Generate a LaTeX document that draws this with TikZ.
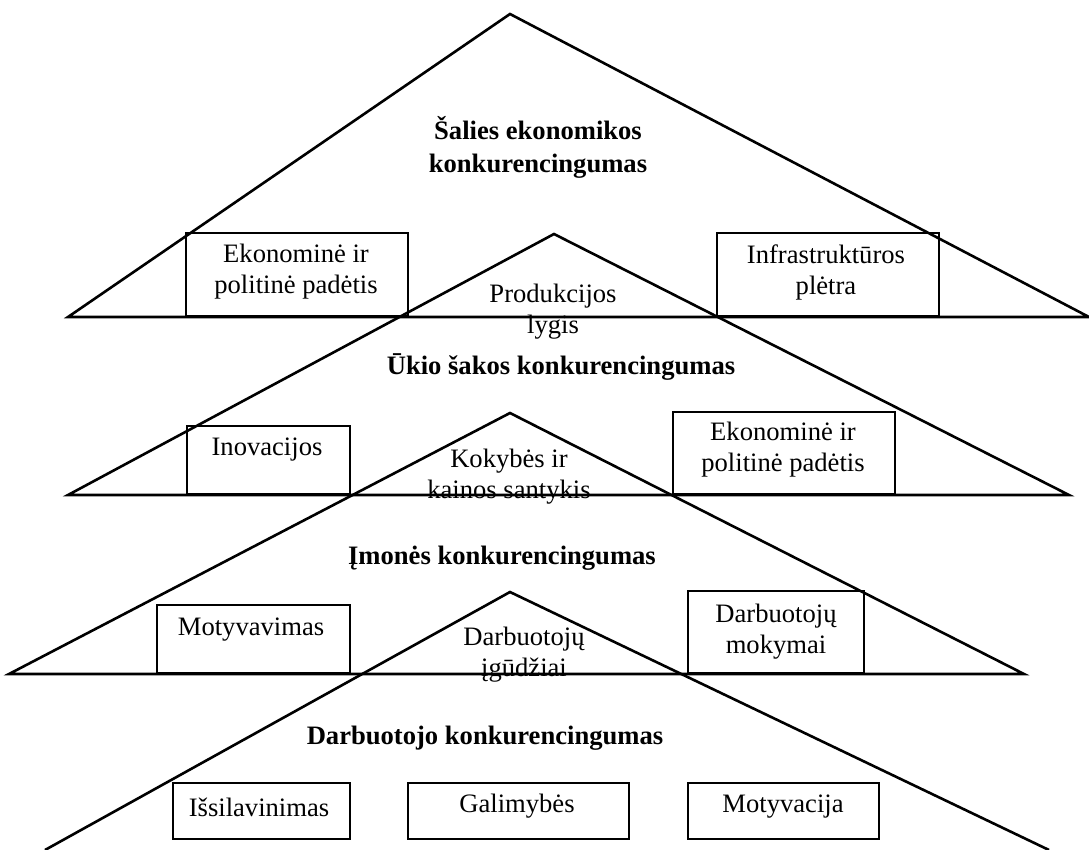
\documentclass[tikz,border=0pt]{standalone}
\usepackage{fontspec}
\setmainfont{Liberation Serif}
\usepackage{tikz}
\usetikzlibrary{positioning}

\tikzset{
  side/.style={line width=2.6pt, line join=miter},
  box/.style={draw, line width=2.3pt, fill=white, inner sep=0pt, anchor=south west},
  txt/.style={align=center, inner sep=0pt, font=\fontsize{26.6}{31}\selectfont},
  head/.style={txt, font=\fontsize{26.6}{33}\selectfont\bfseries}
}

\begin{document}
\begin{tikzpicture}[x=1pt, y=-1pt]
        \useasboundingbox (0,0) rectangle (1089,850);
        % corners of the triangles
        \coordinate (l1) at (68,317);  \coordinate (t1) at (510,14);  \coordinate (r1) at (1089,317);
        \coordinate (l2) at (68,495);  \coordinate (t2) at (554,234); \coordinate (r2) at (1069,495);
        \coordinate (l3) at (9,674);   \coordinate (t3) at (510,413); \coordinate (r3) at (1024,674);
        \coordinate (l4) at (45,850);  \coordinate (t4) at (510,592); \coordinate (r4) at (1049,850);
        % boxes
        \node [box, minimum width=222pt, minimum height=83pt] (b1a) at (185,317) {};
        \node [box, minimum width=222pt, minimum height=83pt] (b1b) at (716,317) {};
        \node [box, minimum width=163pt, minimum height=68pt] (b2a) at (186,495) {};
        \node [box, minimum width=222pt, minimum height=82pt] (b2b) at (672,495) {};
        \node [box, minimum width=193pt, minimum height=68pt] (b3a) at (156,674) {};
        \node [box, minimum width=176pt, minimum height=82pt] (b3b) at (687,674) {};
        \node [box, minimum width=177pt, minimum height=56pt] (b4a) at (172,840) {};
        \node [box, minimum width=221pt, minimum height=56pt] (b4b) at (407,840) {};
        \node [box, minimum width=191pt, minimum height=56pt] (b4c) at (687,840) {};
        % triangles
        \draw [side] (l1) -- (t1) -- (r1) -- cycle;
        \draw [side] (l2) -- (t2) -- (r2) -- cycle;
        \draw [side] (l3) -- (t3) -- (r3) -- cycle;
        \draw [side] (l4) -- (t4) -- (r4);
        % texts
        \node [head] (h1) at (538,147) {Šalies ekonomikos\\konkurencingumas};
        \node [txt] (e1a) at (296,272) {Ekonominė ir\\politinė padėtis};
        \node [txt] (e1b) at (826,272) {Infrastruktūros\\plėtra};
        \node [txt] (p2) at (553,312) {Produkcijos\\lygis};
        \node [head] (h2) at (561,367) {Ūkio šakos konkurencingumas};
        \node [txt] (e2a) at (267,450) {Inovacijos};
        \node [txt] (p3) at (509,477) {Kokybės ir\\kainos santykis};
        \node [txt] (e2b) at (783,450) {Ekonominė ir\\politinė padėtis};
        \node [head] (h3) at (502,558) {Įmonės konkurencingumas};
        \node [txt] (e3a) at (251,630) {Motyvavimas};
        \node [txt] (p4) at (524,655) {Darbuotojų\\įgūdžiai};
        \node [txt] (e3b) at (776,632) {Darbuotojų\\mokymai};
        \node [head] (h4) at (485,738) {Darbuotojo konkurencingumas};
        \node [txt] (e4a) at (259,807) {Išsilavinimas};
        \node [txt] (e4b) at (517,806) {Galimybės};
        \node [txt] (e4c) at (783,807) {Motyvacija};
    \end{tikzpicture}
\end{document}
